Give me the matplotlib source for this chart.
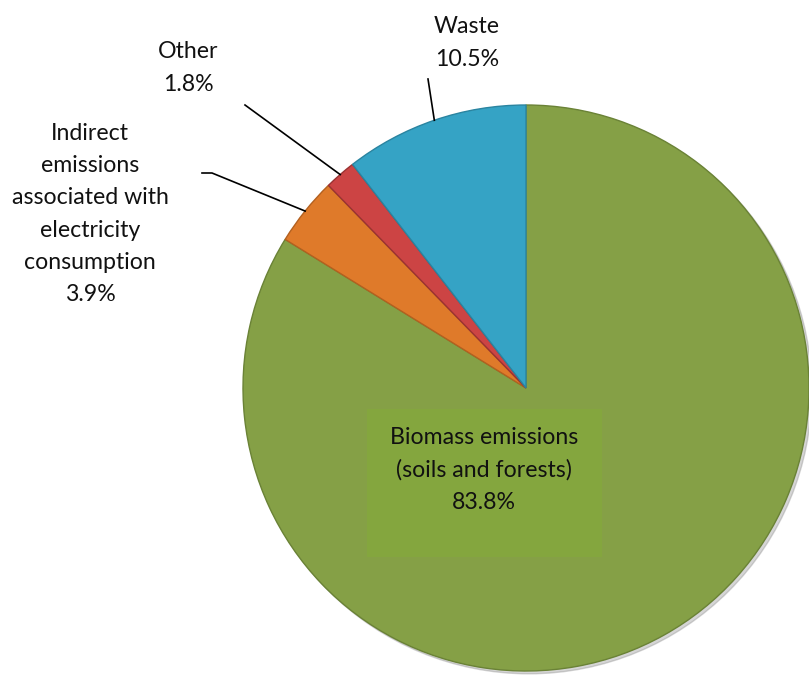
import numpy as np
import matplotlib.pyplot as plt
from matplotlib.patches import Rectangle, Circle

categories = ["Biomass emissions\n(soils and forests)",
              "Indirect\nemissions\nassociated with\nelectricity\nconsumption",
              "Other", "Waste"]
shares = [83.8, 3.9, 1.8, 10.5]
colors = ["#85a046", "#df7a2a", "#cc4444", "#35a3c5"]
edge_colors = ["#6a8236", "#b3601f", "#9a3232", "#2a84a0"]

W, H = 809, 675
CX, CY, R = 526, 388, 283


def px(x, y):
    # pixel position in the picture -> data coords (pie radius = 1)
    return (x - CX) / R, (CY - y) / R


plt.rcParams["font.family"] = ["Lato", "DejaVu Sans"]

fig = plt.figure(figsize=(W / 100, H / 100), dpi=100)
ax = fig.add_axes([0, 0, 1, 1])

# soft shadow under the pie
ax.add_patch(Circle((0.01, -0.01), 1.0, color="#888888", alpha=0.35, zorder=0))

wedges, _ = ax.pie(shares, colors=colors, startangle=90, counterclock=False,
                   radius=1.0, center=(0, 0), frame=True,
                   wedgeprops=dict(linewidth=1.0))
for w, ec in zip(wedges, edge_colors):
    w.set_edgecolor(ec)
    w.set_zorder(1)
ax.set_xlim(px(0, 0)[0], px(W, 0)[0])
ax.set_ylim(px(0, H)[1], px(0, 0)[1])
ax.set_aspect("auto")
ax.axis("off")

fs = 16.7
ls = 1.65

# biomass label box inside the pie
bx0, by0 = px(367, 557)
bx1, by1 = px(602, 409)
ax.add_patch(Rectangle((bx0, by0), bx1 - bx0, by1 - by0, facecolor="#84a63e",
                       edgecolor="none", zorder=2))
ax.text(*px(484, 470), f"{categories[0]}\n{shares[0]:.1f}%", ha="center", va="center",
        fontsize=fs, linespacing=ls, color="#111111", zorder=3)

# outside labels with leader lines
label_pos = {1: px(90, 214), 2: px(188, 68), 3: px(467, 43)}
line_pts = {1: [px(202, 173), px(212, 173)], 2: [px(245, 105)], 3: [px(428, 79)]}

for i in (1, 2, 3):
    w = wedges[i]
    mid = np.deg2rad((w.theta1 + w.theta2) / 2)
    edge = (np.cos(mid), np.sin(mid))
    pts = line_pts[i] + [edge]
    ax.plot([p[0] for p in pts], [p[1] for p in pts], color="black", lw=1.2, zorder=4)
    ax.text(*label_pos[i], f"{categories[i]}\n{shares[i]:.1f}%", ha="center", va="center",
            fontsize=fs, linespacing=ls, color="#111111")

fig.savefig("out.png", dpi=100)
